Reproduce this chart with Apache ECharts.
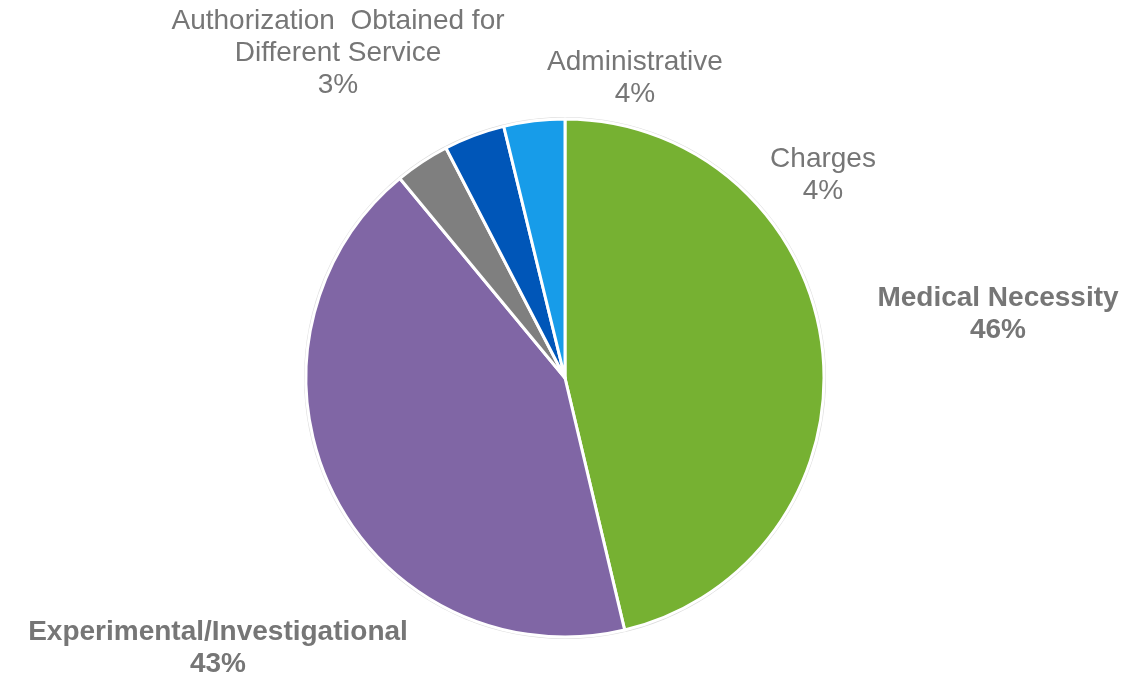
<!DOCTYPE html>
<html>
<head>
<meta charset="utf-8">
<script src="https://cdn.jsdelivr.net/npm/echarts@6/dist/echarts.min.js"></script>
<style>
    html, body { margin: 0; padding: 0; background: #ffffff; }
    #chart { width: 1133px; height: 678px; }
</style>
</head>
<body>
<div id="chart"></div>
<script>
// Denial reasons, clockwise from 12 o'clock
const categories = [
    'Medical Necessity',
    'Experimental/Investigational',
    'Authorization  Obtained for\nDifferent Service',
    'Administrative',
    'Charges'
];
const shares = [46.3, 42.7, 3.4, 3.8, 3.8];
const sliceColors = ['#76b132', '#8066a5', '#7f7f7f', '#0056b8', '#179ce9'];
const boldLabels = [true, true, false, false, false];

// where each label block sits (centre of the text block)
const labelSpots = [
    [998, 314],
    [218, 648],
    [338, 53],
    [635, 78],
    [823, 175]
];

const CENTER = [565, 378];
const RADIUS = 259;

const chart = echarts.init(document.getElementById('chart'), null, { renderer: 'canvas' });

chart.setOption({
    animation: false,
    backgroundColor: '#ffffff',
    series: [
        {
            // faint outline around the pie
            type: 'pie',
            silent: true,
            center: CENTER,
            radius: RADIUS + 2,
            label: { show: false },
            labelLine: { show: false },
            itemStyle: { color: '#dcdcdc' },
            data: [{ value: 1, name: 'outline' }],
            z: 1
        },
        {
            type: 'pie',
            center: CENTER,
            radius: RADIUS,
            startAngle: 90,
            clockwise: true,
            z: 2,
            itemStyle: {
                borderColor: '#ffffff',
                borderWidth: 3
            },
            labelLine: { show: false },
            label: {
                show: true,
                color: '#767676',
                fontFamily: 'Liberation Sans, Arial, sans-serif',
                fontSize: 28,
                lineHeight: 32,
                align: 'center',
                overflow: 'none',
                formatter: (p) => `${p.name}\n${Math.round(p.percent)}%`
            },
            labelLayout: (params) => {
                const spot = labelSpots[params.dataIndex];
                return {
                    x: spot[0],
                    y: spot[1],
                    align: 'center',
                    verticalAlign: 'middle'
                };
            },
            data: categories.map((name, i) => ({
                name: name,
                value: shares[i],
                itemStyle: { color: sliceColors[i] },
                label: { fontWeight: boldLabels[i] ? 'bold' : 'normal' }
            }))
        }
    ]
});
</script>
</body>
</html>
